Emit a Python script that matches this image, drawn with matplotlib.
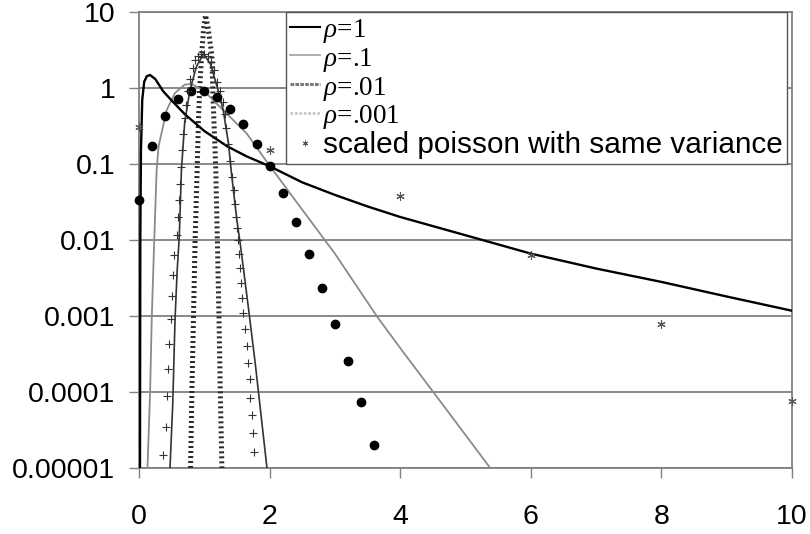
import matplotlib
matplotlib.use("Agg")
import matplotlib.pyplot as plt
from matplotlib.lines import Line2D

plt.rcParams['font.family'] = ['Liberation Sans', 'DejaVu Sans']
plt.rcParams['mathtext.fontset'] = 'custom'
plt.rcParams['mathtext.rm'] = 'Liberation Serif'
plt.rcParams['mathtext.it'] = 'Liberation Serif:italic'

# rho = 1 density (black)
rho1_x = [0.015, 0.02, 0.03, 0.05, 0.08, 0.12, 0.17, 0.25, 0.37, 0.5, 0.7, 1.0, 1.35,
          1.65, 2.0, 2.5, 3.0, 3.5, 4.0, 5.0, 6.0, 7.0, 8.0, 9.0, 10.0]
rho1_y = [1e-5, 0.01, 0.15, 0.7, 1.2, 1.42, 1.47, 1.3, 0.9, 0.68, 0.45, 0.27, 0.17,
          0.125, 0.093, 0.057, 0.039, 0.0275, 0.020, 0.0115, 0.0066, 0.0042, 0.0028,
          0.0018, 0.00117]

# rho = .1 density (grey)
rho01_x = [0.13, 0.17, 0.195, 0.23, 0.27, 0.30, 0.425, 0.55, 0.7, 0.8, 0.885, 1.0, 1.24,
           1.65, 1.98, 2.47, 3.0, 3.65, 4.03, 4.77, 5.38]
rho01_y = [1e-5, 1e-4, 0.0009, 0.008, 0.083, 0.17, 0.51, 0.85, 1.1, 1.12, 1.03, 0.9, 0.56,
           0.25, 0.1, 0.027, 0.0066, 0.00097, 0.00035, 5.0e-5, 1e-5]

# rho = .01 density (dark)
rho001_x = [0.475, 0.517, 0.552, 0.585, 0.617, 0.65, 0.70, 0.78, 0.88, 0.99, 1.1, 1.24,
            1.29, 1.37, 1.42, 1.50, 1.55, 1.68, 1.78, 1.96]
rho001_y = [1e-5, 7e-5, 9e-4, 0.004, 0.011, 0.083, 0.35, 0.93, 1.9, 2.8, 2.0, 0.76,
            0.51, 0.186, 0.07, 0.018, 0.009, 0.0012, 0.00024, 1e-5]

# rho = .001 density (textured)
rho0001_x = [0.79, 0.81, 0.835, 0.86, 0.89, 0.91, 0.93, 0.96, 0.99, 1.02, 1.06, 1.115,
             1.135, 1.16, 1.176, 1.2, 1.225, 1.245, 1.27]
rho0001_y = [1e-5, 1e-4, 1e-3, 0.01, 0.08, 0.35, 1.0, 2.7, 6.0, 9.0, 6.0, 2.7,
             0.7, 0.2, 0.083, 0.01, 1e-3, 1e-4, 1e-5]

# scaled poisson points
pois1_x = [0, 2, 4, 6, 8, 10]
pois1_y = [0.307, 0.151, 0.038, 0.0063, 0.00078, 7.6e-5]

pois01_x = [0.0, 0.2, 0.4, 0.6, 0.8, 1.0, 1.2, 1.4, 1.6, 1.8, 2.0, 2.2, 2.4, 2.6, 2.8,
            3.0, 3.2, 3.4, 3.6]
pois01_y = [0.033, 0.172, 0.424, 0.717, 0.905, 0.905, 0.748, 0.525, 0.333, 0.182, 0.094,
            0.041, 0.0173, 0.0065, 0.0023, 0.00078, 0.000253, 7.3e-5, 2.0e-5]

pois001_x = [0.373, 0.41, 0.424, 0.44, 0.467, 0.487, 0.502, 0.518, 0.542, 0.578, 0.595,
             0.613, 0.627, 0.645, 0.66, 0.68, 0.70, 0.72, 0.75, 0.78, 0.82, 0.86, 0.9,
             0.95, 1.0, 1.05, 1.1, 1.15, 1.2, 1.24, 1.28, 1.31, 1.34, 1.37, 1.40,
             1.43, 1.45, 1.47, 1.485, 1.50, 1.523, 1.538, 1.549, 1.564, 1.575, 1.59,
             1.626, 1.652, 1.67, 1.693, 1.704, 1.73, 1.745, 1.764]
pois001_y = [1.5e-5, 3.5e-5, 8.8e-5, 2.0e-4, 4.3e-4, 9.2e-4, 1.8e-3, 3.5e-3, 6.4e-3, 0.0115,
             0.020, 0.033, 0.054, 0.09, 0.15, 0.25, 0.4, 0.6, 0.9, 1.3, 1.8, 2.3, 2.6,
             2.8, 2.8, 2.6, 2.2, 1.7, 1.2, 0.9, 0.65, 0.45, 0.3, 0.18, 0.11,
             0.067, 0.045, 0.030, 0.020, 0.0142, 0.0101, 0.0066, 0.0043, 0.0027, 0.0017, 0.0011,
             0.00067, 0.0004, 0.00024, 0.000146, 8.4e-5, 5.0e-5, 2.9e-5, 1.6e-5]

yticks = [1e-5, 1e-4, 1e-3, 1e-2, 1e-1, 1, 10]
ytick_labels = ["0.00001", "0.0001", "0.001", "0.01", "0.1", "1", "10"]
xticks = [0, 2, 4, 6, 8, 10]
labels = [r"$\rho$=1", r"$\rho$=.1", r"$\rho$=.01", r"$\rho$=.001",
          "scaled poisson with same variance"]

fig = plt.figure(figsize=(8.1, 5.34), dpi=100)
ax = fig.add_axes([0.1716, 0.1236, 0.806, 0.8545])

ax.plot(rho1_x, rho1_y, color='black', lw=1.7, zorder=5)
ax.plot(rho01_x, rho01_y, color='#8a8a8a', lw=1.3, zorder=4)
ax.plot(rho001_x, rho001_y, color='#333333', lw=1.2, zorder=4)
ax.plot(rho0001_x, rho0001_y, color='#2a2a2a', lw=3.6, ls=(0, (0.4, 0.6)),
        dash_capstyle='butt', zorder=3)

ax.plot(pois1_x, pois1_y, ls='none', marker=(6, 2, 0), ms=6, mew=0.8,
        color='#555555', zorder=6, clip_on=False)
ax.plot(pois01_x, pois01_y, ls='none', marker='o', ms=6, color='black', zorder=6,
        clip_on=False)
ax.plot(pois001_x, pois001_y, ls='none', marker='+', ms=6, mew=0.8, color='#333333',
        zorder=6)

ax.set_xlim(0, 10)
ax.set_yscale('log')
ax.set_ylim(1e-5, 10)
ax.set_yticks(yticks)
ax.set_yticklabels(ytick_labels)
ax.minorticks_off()
ax.set_xticks(xticks)
ax.set_xticklabels([str(t) for t in xticks])
ax.tick_params(axis='x', length=7, width=1, color='#808080', pad=19, labelsize=20.5)
ax.tick_params(axis='y', length=7, width=1, color='#808080', pad=10, labelsize=20.5)
ax.yaxis.grid(True, color='#808080', lw=1.3)
ax.set_axisbelow(True)
for s in ax.spines.values():
    s.set_color('#808080')
    s.set_linewidth(1.3)

handles = [
    Line2D([], [], color='black', lw=1.5),
    Line2D([], [], color='#a0a0a0', lw=1.2),
    Line2D([], [], color='#7a7a7a', lw=2.2, ls=(0, (1.2, 0.4))),
    Line2D([], [], color='#c8c8c8', lw=2.0, ls=(0, (1, 0.6))),
    Line2D([], [], ls='none', marker=(6, 2, 0), ms=4, mew=0.7, color='#555555'),
]
leg = ax.legend(handles, labels, loc='upper left', bbox_to_anchor=(0.225, 1.0),
                borderaxespad=0, fontsize=21.4, handlelength=1.0, handletextpad=0.1,
                labelspacing=0.0, borderpad=0.15, fancybox=False, framealpha=1,
                edgecolor='#555555')
leg.get_frame().set_linewidth(1.0)
leg.set_zorder(10)
for t in leg.get_texts()[:4]:
    t.set_fontfamily('Liberation Serif')
    t.set_fontsize(19.5)

fig.savefig("out.png", dpi=100)
